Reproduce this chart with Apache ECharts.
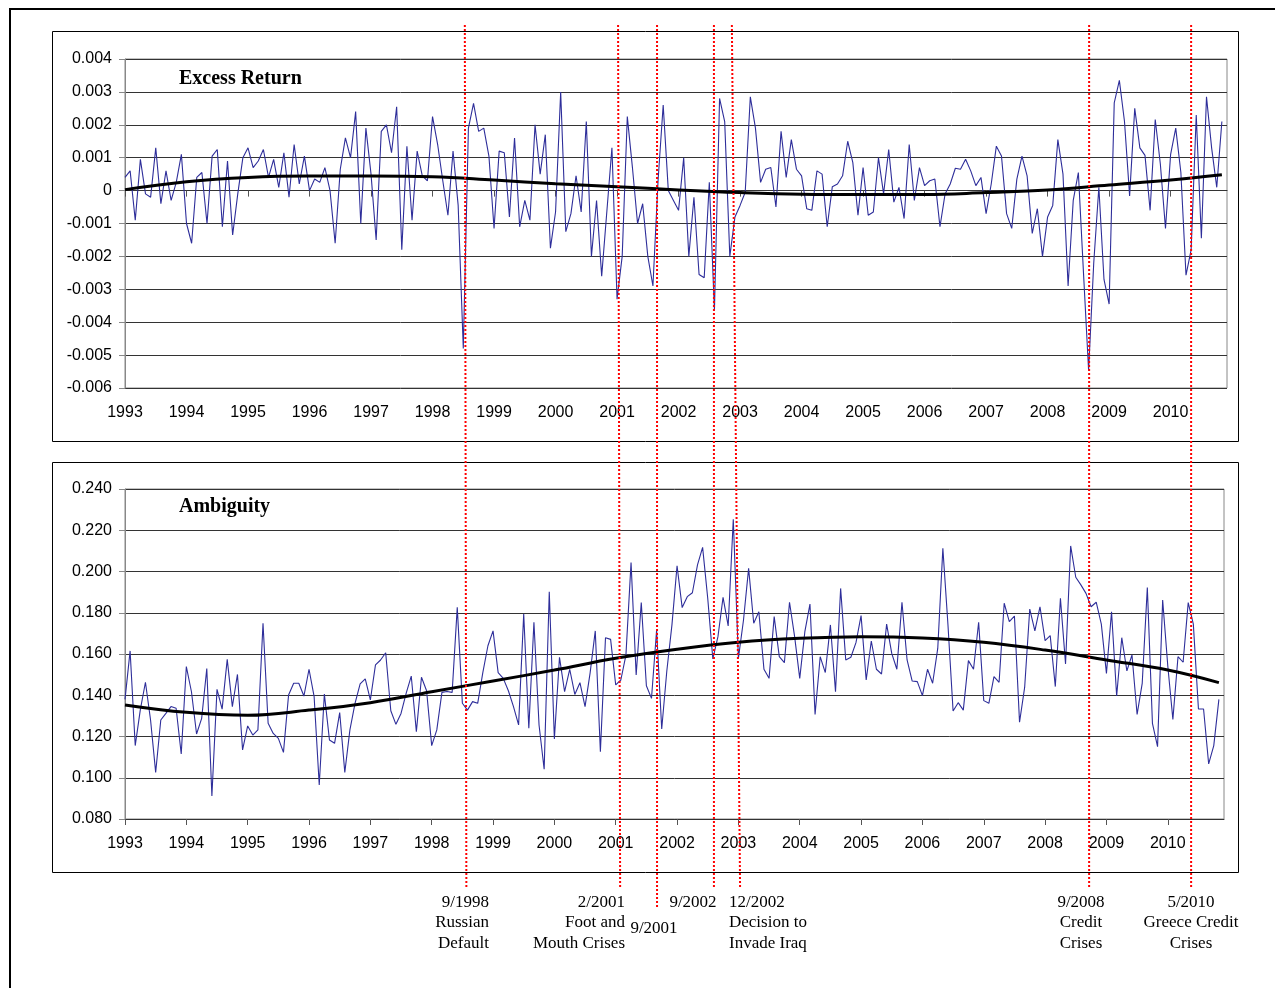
<!DOCTYPE html>
<html>
<head>
<meta charset="utf-8">
<title>Excess Return and Ambiguity</title>
<script src="https://cdn.jsdelivr.net/npm/echarts@6/dist/echarts.min.js"></script>
<style>
html, body { margin: 0; padding: 0; background: #fff; }
#main { width: 1275px; height: 988px; }
</style>
</head>
<body>
<div id="main"></div>
<script>
// year labels, one every 12 monthly observations
var years = ['1993', '1994', '1995', '1996', '1997', '1998', '1999', '2000', '2001',
	'2002', '2003', '2004', '2005', '2006', '2007', '2008', '2009', '2010'];

// monthly excess return, from Jan 1993
var excessReturn = [
	0.0004, 0.0006, -0.0009, 0.00095, -0.0001, -0.0002, 0.0013, -0.0004, 0.0006, -0.0003, 0.00025, 0.0011,
	-0.001, -0.0016, 0.0004, 0.00055, -0.001, 0.00105, 0.00125, -0.0011, 0.0009, -0.00135, -0.0001, 0.001,
	0.0013, 0.0007, 0.0009, 0.00125, 0.0004, 0.00095, 0.0001, 0.00115, -0.0002, 0.0014, 0.0002, 0.00105,
	0.0, 0.00035, 0.00025, 0.0007, 0.0, -0.0016, 0.00065, 0.0016, 0.001, 0.0024, -0.001, 0.0019,
	0.0005, -0.0015, 0.0018, 0.002, 0.00115, 0.00255, -0.0018, 0.00135, -0.0009, 0.0012, 0.00045, 0.0003,
	0.00225, 0.0014, 0.0003, -0.00075, 0.0012, -0.00045, -0.0048, 0.0019, 0.00265, 0.0018, 0.0019, 0.00105,
	-0.00115, 0.0012, 0.00115, -0.0008, 0.0016, -0.0011, -0.0003, -0.0009, 0.002, 0.0005, 0.0017, -0.00175,
	-0.00065, 0.003, -0.00125, -0.0007, 0.00045, -0.00065, 0.0021, -0.002, -0.0003, -0.0026, -0.00065, 0.0013,
	-0.0033, -0.002, 0.00225, 0.0007, -0.001, -0.0004, -0.002, -0.0029, 0.0003, 0.0026, 0.0, -0.0003,
	-0.0006, 0.001, -0.002, -0.0002, -0.00255, -0.00265, 0.00025, -0.00365, 0.0028, 0.0021, -0.002, -0.0008,
	-0.00045, -0.00005, 0.00285, 0.0019, 0.00025, 0.00065, 0.0007, -0.0005, 0.0018, 0.0004, 0.00155, 0.00065,
	0.00045, -0.00055, -0.0006, 0.0006, 0.0005, -0.0011, 0.00012, 0.0002, 0.00045, 0.0015, 0.00085, -0.00075,
	0.0007, -0.00075, -0.00065, 0.001, -0.0001, 0.00125, -0.00035, 0.0001, -0.00085, 0.0014, -0.0003, 0.0007,
	0.00015, 0.0003, 0.00035, -0.0011, -0.0001, 0.0002, 0.00068, 0.00065, 0.00095, 0.0006, 0.00015, 0.0004,
	-0.0007, 0.0002, 0.00135, 0.00105, -0.0007, -0.00115, 0.00035, 0.00105, 0.00045, -0.0013, -0.00055, -0.002,
	-0.0008, -0.00045, 0.00155, 0.0005, -0.0029, -0.0003, 0.00055, -0.0025, -0.00547, -0.0022, 0.0001, -0.0027,
	-0.00345, 0.00267, 0.00335, 0.0021, -0.00016, 0.0025, 0.0013, 0.00107, -0.0006, 0.00216, 0.0008, -0.00115,
	0.0011, 0.0019, 0.00055, -0.00257, -0.0018, 0.0023, -0.00145, 0.00285, 0.0013, 0.0001, 0.0021
];

// monthly ambiguity, from Jan 1993
var ambiguity = [
	0.138, 0.1615, 0.1156, 0.133, 0.1463, 0.128, 0.1026, 0.128, 0.1312, 0.1345, 0.1337, 0.1115,
	0.1539, 0.1417, 0.1212, 0.1288, 0.153, 0.0912, 0.1429, 0.1333, 0.1574, 0.1345, 0.1501, 0.1135,
	0.1251, 0.1207, 0.1232, 0.1749, 0.1264, 0.1215, 0.1191, 0.1123, 0.1401, 0.1458, 0.1458, 0.1396,
	0.1526, 0.1393, 0.0965, 0.1406, 0.1183, 0.1167, 0.1316, 0.1026, 0.1232, 0.1361, 0.1455, 0.1479,
	0.1377, 0.1547, 0.1571, 0.1606, 0.1325, 0.1259, 0.1312, 0.1409, 0.1493, 0.1223, 0.1487, 0.1422,
	0.1156, 0.1232, 0.1414, 0.1418, 0.1414, 0.1826, 0.1361, 0.1328, 0.1369, 0.1361, 0.151, 0.164,
	0.1712, 0.151, 0.1482, 0.1422, 0.1345, 0.1256, 0.1794, 0.124, 0.1754, 0.1256, 0.1041, 0.1902,
	0.1188, 0.1584, 0.1417, 0.1526, 0.1404, 0.1461, 0.1345, 0.151, 0.1712, 0.1126, 0.1679, 0.1671,
	0.145, 0.1474, 0.1595, 0.2043, 0.1498, 0.185, 0.1446, 0.1385, 0.1716, 0.1236, 0.1519, 0.1741,
	0.2028, 0.1825, 0.1878, 0.1897, 0.2032, 0.2117, 0.187, 0.1576, 0.1684, 0.1875, 0.1736, 0.2253,
	0.1579, 0.1765, 0.2015, 0.1749, 0.1805, 0.1526, 0.1482, 0.1781, 0.1587, 0.1558, 0.1851, 0.1684,
	0.1482, 0.1708, 0.1842, 0.1307, 0.1587, 0.151, 0.1741, 0.1417, 0.1918, 0.1571, 0.1584, 0.1655,
	0.1786, 0.1474, 0.1663, 0.1526, 0.1503, 0.1745, 0.1603, 0.1526, 0.1851, 0.1571, 0.1469, 0.1466,
	0.1398, 0.1526, 0.1458, 0.1627, 0.2112, 0.1741, 0.1324, 0.1364, 0.1328, 0.1568, 0.1526, 0.1754,
	0.1374, 0.1361, 0.149, 0.1463, 0.1846, 0.1757, 0.1784, 0.1269, 0.1438, 0.1818, 0.1712, 0.1829,
	0.1665, 0.1689, 0.1442, 0.187, 0.1552, 0.2124, 0.1972, 0.1935, 0.1894, 0.1829, 0.1851, 0.1745,
	0.1506, 0.1805, 0.1396, 0.1679, 0.1518, 0.1595, 0.1307, 0.1458, 0.1922, 0.1264, 0.1151, 0.1862,
	0.1543, 0.1283, 0.1587, 0.156, 0.1849, 0.1745, 0.1333, 0.1333, 0.1067, 0.1156, 0.138
];

// trend lines read at the start of each year: [month index, value]
var excessTrend = [
	[0, 0.00003], [12, 0.00027], [24, 0.0004], [36, 0.00044], [48, 0.00044], [60, 0.00042],
	[72, 0.00032], [84, 0.00021], [96, 0.00012], [108, 0.00002], [120, -0.00006], [132, -0.00011],
	[144, -0.00012], [156, -0.00012], [168, -0.00006], [180, 0.00002], [192, 0.00017], [204, 0.00032],
	[214, 0.00048]
];
var ambiguityTrend = [
	[0, 0.1353], [12, 0.1317], [24, 0.1303], [36, 0.1328], [48, 0.1364], [60, 0.1417],
	[72, 0.1469], [84, 0.1522], [96, 0.1579], [108, 0.1623], [120, 0.1657], [132, 0.1676],
	[144, 0.1684], [156, 0.1678], [168, 0.1657], [180, 0.1619], [192, 0.1571], [204, 0.1522],
	[214, 0.1461]
];

// events marked with dotted lines (month index where the line starts / ends)
var eventNames = ['9/1998', '2/2001', '9/2001', '9/2002', '12/2002', '9/2008', '5/2010'];
var eventStart = [66.3, 96.2, 103.8, 114.9, 118.4, 188.1, 208.0];
var eventEnd = [66.6, 96.6, 103.8, 114.9, 120.0, 188.1, 208.0];

// one category per month, Jan 1993 .. Dec 2010
var months = [];
years.forEach(function(y) {
	for (var m = 1; m <= 12; m++) months.push(y + '-' + m);
});

var labelFont = { fontFamily: 'Liberation Sans', fontSize: 16, color: '#000' };
var titleFont = { fontFamily: 'Liberation Serif', fontWeight: 'bold', fontSize: 20, color: '#000' };
var noteFont = '17px "Liberation Serif"';
var blue = '#2e2e9a';

function xAxisFor(gridIndex) {
	return {
		type: 'category', gridIndex: gridIndex, data: months, boundaryGap: false,
		axisLine: { lineStyle: { color: '#333', width: 1 } },
		axisTick: { interval: 11, length: 6, lineStyle: { color: '#555' } },
		axisLabel: Object.assign({ interval: 11, margin: 17, formatter: function(v) { return v.slice(0, 4); } }, labelFont),
		splitLine: { show: false }
	};
}
function yAxisFor(gridIndex, min, max, step, fmt) {
	return {
		type: 'value', gridIndex: gridIndex, min: min, max: max, interval: step,
		axisLine: { show: true, lineStyle: { color: '#888' } },
		axisTick: { show: true, length: 6, lineStyle: { color: '#888' } },
		axisLabel: Object.assign({ margin: 13, padding: [3, 0, 0, 0], formatter: fmt }, labelFont),
		splitLine: { lineStyle: { color: '#333', width: 1 } }
	};
}

var eventSeries = eventNames.map(function(name, k) {
	return {
		name: name, type: 'line', xAxisIndex: 2, yAxisIndex: 2, silent: true, z: 10,
		symbol: 'none', animation: false,
		data: [[eventStart[k], 25], [eventEnd[k], name == '9/2001' ? 907 : 887]],
		lineStyle: { color: '#ff0000', width: 2, type: [2, 2] }
	};
});

function note(text, x, y, align) {
	return {
		type: 'text', silent: true, z: 20,
		style: { text: text, x: x, y: y, font: noteFont, fill: '#000', align: align, verticalAlign: 'top', lineHeight: 20.5 }
	};
}

var myChart = echarts.init(document.getElementById('main'), null, { renderer: 'canvas' });

var option = {
	animation: false,
	backgroundColor: '#fff',
	title: [
		{ text: 'Excess Return', left: 179, top: 69, padding: 0, textStyle: titleFont },
		{ text: 'Ambiguity', left: 179, top: 497, padding: 0, textStyle: titleFont }
	],
	grid: [
		{ left: 125, right: 48, top: 59, bottom: 600, show: true, borderColor: '#888', borderWidth: 1 },
		{ left: 125, right: 51, top: 489, bottom: 169, show: true, borderColor: '#888', borderWidth: 1 },
		{ left: 125, right: 48, top: 0, bottom: 0, show: false }
	],
	xAxis: [
		xAxisFor(0),
		xAxisFor(1),
		{ type: 'value', gridIndex: 2, min: 0, max: 215, show: false }
	],
	yAxis: [
		yAxisFor(0, -0.006, 0.004, 0.001, function(v) { return Math.abs(v) < 1e-10 ? '0' : v.toFixed(3); }),
		yAxisFor(1, 0.08, 0.24, 0.02, function(v) { return v.toFixed(3); }),
		{ type: 'value', gridIndex: 2, min: 0, max: 988, inverse: true, show: false }
	],
	series: [
		{ name: 'Excess Return', type: 'line', xAxisIndex: 0, yAxisIndex: 0, data: excessReturn,
			symbol: 'none', lineStyle: { color: blue, width: 1.1 }, z: 2 },
		{ name: 'Excess Return trend', type: 'line', xAxisIndex: 0, yAxisIndex: 0, data: excessTrend,
			symbol: 'none', smooth: 0.4, lineStyle: { color: '#000', width: 3 }, z: 3 },
		{ name: 'Ambiguity', type: 'line', xAxisIndex: 1, yAxisIndex: 1, data: ambiguity,
			symbol: 'none', lineStyle: { color: blue, width: 1.1 }, z: 2 },
		{ name: 'Ambiguity trend', type: 'line', xAxisIndex: 1, yAxisIndex: 1, data: ambiguityTrend,
			symbol: 'none', smooth: 0.4, lineStyle: { color: '#000', width: 3 }, z: 3 }
	].concat(eventSeries),
	graphic: [
		// outer frame and panel boxes
		{ type: 'rect', silent: true, z: 0, shape: { x: 10, y: 9, width: 1300, height: 1000 },
			style: { fill: 'none', stroke: '#000', lineWidth: 2 } },
		{ type: 'rect', silent: true, z: 0, shape: { x: 52.5, y: 31.5, width: 1186, height: 410 },
			style: { fill: 'none', stroke: '#000', lineWidth: 1 } },
		{ type: 'rect', silent: true, z: 0, shape: { x: 52.5, y: 462.5, width: 1186, height: 410 },
			style: { fill: 'none', stroke: '#000', lineWidth: 1 } },
		// event notes
		note('9/1998\nRussian\nDefault', 489, 892, 'right'),
		note('2/2001\nFoot and\nMouth Crises', 625, 892, 'right'),
		note('9/2001', 654, 918, 'center'),
		note('9/2002', 693, 892, 'center'),
		note('12/2002\nDecision to\nInvade Iraq', 729, 892, 'left'),
		note('9/2008\nCredit\nCrises', 1081, 892, 'center'),
		note('5/2010\nGreece Credit\nCrises', 1191, 892, 'center')
	]
};
myChart.setOption(option);
</script>
</body>
</html>
